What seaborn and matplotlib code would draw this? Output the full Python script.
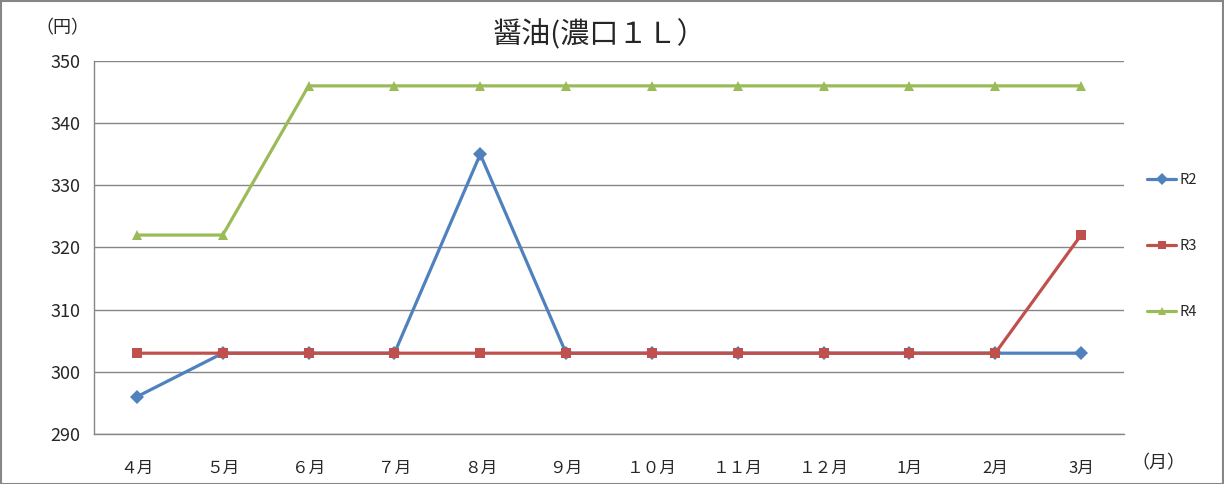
import matplotlib
matplotlib.use("Agg")
import matplotlib.pyplot as plt
import seaborn as sns
import pandas as pd
from matplotlib.patches import Rectangle
from matplotlib.ticker import FixedLocator
from matplotlib.lines import Line2D

sns.set_style("white")
plt.rcParams['font.family'] = ['Noto Sans CJK JP', 'DejaVu Sans']

months = ["４月", "５月", "６月", "７月", "８月", "９月", "１０月", "１１月", "１２月", "1月", "2月", "3月"]
r2 = [296, 303, 303, 303, 335, 303, 303, 303, 303, 303, 303, 303]
r3 = [303, 303, 303, 303, 303, 303, 303, 303, 303, 303, 303, 322]
r4 = [322, 322, 346, 346, 346, 346, 346, 346, 346, 346, 346, 346]
series_names = ["R2", "R3", "R4"]
colors = {"R2": "#4F81BD", "R3": "#C0504D", "R4": "#9BBB59"}
markers = {"R2": "D", "R3": "s", "R4": "^"}

rows = []
for name, vals in zip(series_names, [r2, r3, r4]):
    for i, v in enumerate(vals):
        rows.append({"pos": i, "month": months[i], "value": v, "series": name})
df = pd.DataFrame(rows)

fig = plt.figure(figsize=(12.24, 4.84), dpi=100)
ax = fig.add_axes([94/1224, 1-434/484, (1124-94)/1224, (434-61)/484])

sns.lineplot(data=df, x="pos", y="value", hue="series", style="series",
             markers=markers, dashes=False, palette=colors, linewidth=2.3,
             markersize=7.5, markeredgewidth=0, ax=ax, legend=False, sort=False)

ax.set_xlim(-0.5, 11.5)
ax.set_ylim(290, 350)
ax.set_yticks([290, 300, 310, 320, 330, 340, 350])
ax.set_xticks(range(12))
ax.set_xticklabels(months, fontsize=12)
ax.xaxis.set_minor_locator(FixedLocator([i - 0.5 for i in range(13)]))
ax.tick_params(axis="x", which="major", length=0, pad=19)
ax.tick_params(axis="x", which="minor", length=6, color="#868686", direction="out")
ax.tick_params(axis="y", length=6, color="#868686", direction="out", labelsize=13, pad=4)
ax.set_xlabel("")
ax.set_ylabel("")
ax.grid(axis="y", color="#868686", linewidth=1)
ax.set_axisbelow(True)
for s in ["top", "right"]:
    ax.spines[s].set_visible(False)
for s in ["left", "bottom"]:
    ax.spines[s].set_color("#868686")
    ax.spines[s].set_linewidth(1)

# legend
handles = [Line2D([0], [0], color=colors[n], marker=markers[n], markersize=6,
                  markeredgewidth=0, linewidth=2.3) for n in series_names]
fig.legend(handles, series_names, loc="upper left", bbox_to_anchor=(1140/1224, 1-166/484),
           frameon=False, fontsize=10.5, labelspacing=3.55, handlelength=2.0,
           handletextpad=0.2, borderpad=0)

fig.text(600/1224, 1-35/484, "醤油(濃口１Ｌ）", ha="center", va="center", fontsize=21)
fig.text(62/1224, 1-28/484, "（円）", ha="center", va="center", fontsize=13)
fig.text(1158/1224, 1-463/484, "（月）", ha="center", va="center", fontsize=13)

fig.patches.append(Rectangle((0.0008, 0.001), 0.9984, 0.997, transform=fig.transFigure,
                             fill=False, edgecolor="#868686", linewidth=1.5))

fig.savefig("out.png", dpi=100)
